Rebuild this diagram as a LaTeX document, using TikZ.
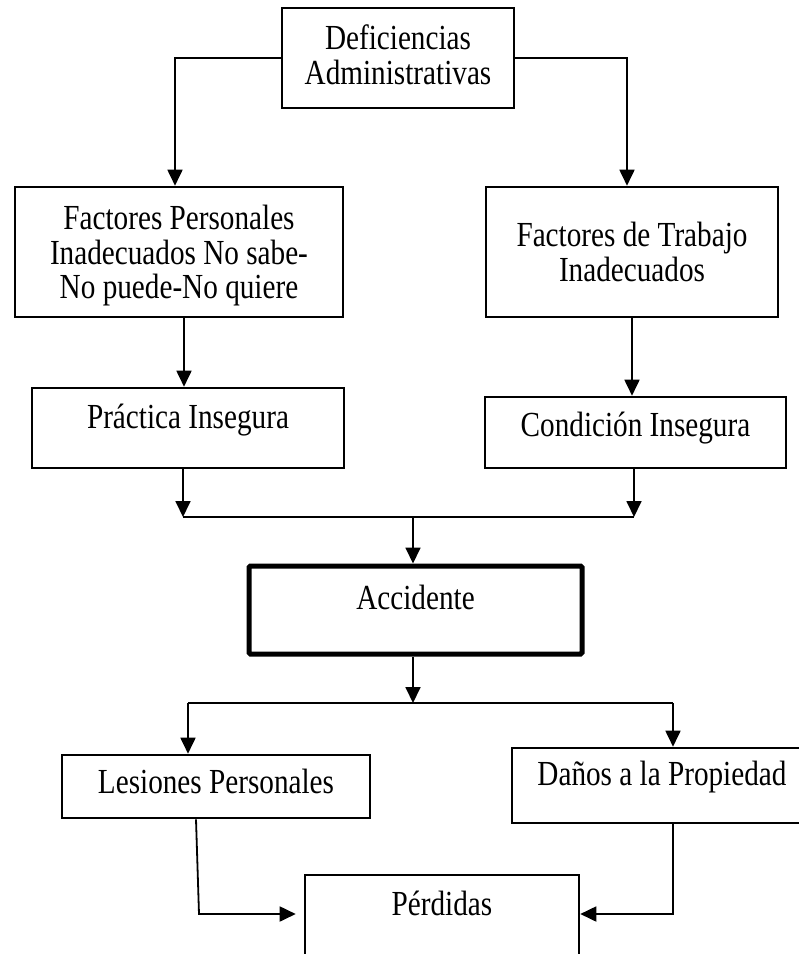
\documentclass[tikz,border=0pt]{standalone}
\usepackage{fontspec}
\setmainfont{Liberation Serif}[FakeStretch=0.83]
\usetikzlibrary{arrows.meta, positioning}

\begin{document}
\begin{tikzpicture}[x=1pt, y=-1pt, font=\fontsize{35.2}{34.5}\selectfont,
	box/.style={draw, line width=2.6pt, inner sep=0pt, align=center},
	tbox/.style={box, text height=20pt, text depth=#1},
	conn/.style={line width=1.8pt},
	arr/.style={conn, -{Triangle[length=16pt, width=15pt]}}]
	\useasboundingbox (0,0) rectangle (799,954);
	\clip (0,0) rectangle (799,954);
	% boxes
	\node[box, minimum width=232pt, minimum height=100pt] (def) at (398,58) {Deficiencias\\Administrativas\rule[-7pt]{0pt}{0pt}};
	\node[box, minimum width=328pt, minimum height=130pt] (fpers) at (179,252) {\rule{0pt}{32pt}Factores Personales\\Inadecuados No sabe-\\No puede-No quiere};
	\node[box, minimum width=292pt, minimum height=130pt] (ftrab) at (632,252) {Factores de Trabajo\\Inadecuados};
	\node[tbox=20pt, minimum width=312pt, minimum height=80pt] (prac) at (188,428) {Práctica Insegura};
	\node[tbox=13pt, minimum width=301pt, minimum height=71pt] (cond) at (635.5,432.5) {Condición Insegura};
	\node[tbox=22pt, line width=5pt, rounded corners=1.5pt, minimum width=333pt, minimum height=88pt] (acc) at (415.5,610) {Accidente};
	\node[tbox=7pt, minimum width=308pt, minimum height=63pt] (les) at (216,786.5) {Lesiones Personales};
	\node[tbox=21pt, minimum width=300pt, minimum height=75pt] (dan) at (662,785.5) {Daños a la Propiedad};
	\node[tbox=30pt, minimum width=274pt, minimum height=90pt] (per) at (442,920) {Pérdidas};
	% connectors
	\coordinate (dl) at (175,58);
	\coordinate (dr) at (627,58);
	\draw[arr] (def.west) -- (dl) -- (dl |- fpers.north);
	\draw[arr] (def.east) -- (dr) -- (dr |- ftrab.north);
	\coordinate (a1) at (184,0);
	\coordinate (a2) at (632,0);
	\draw[arr] (a1 |- fpers.south) -- (a1 |- prac.north);
	\draw[arr] (a2 |- ftrab.south) -- (a2 |- cond.north);
	\coordinate (jl) at (183,517);
	\coordinate (jr) at (634,517);
	\coordinate (jm) at (413,517);
	\draw[arr] (jl |- prac.south) -- (jl);
	\draw[arr] (jr |- cond.south) -- (jr);
	\draw[conn] (jl) -- (jr);
	\draw[arr] (jm) -- (jm |- acc.north);
	\coordinate (sm) at (413,703);
	\coordinate (sl) at (188,703);
	\coordinate (sr) at (673,703);
	\draw[arr] (sm |- acc.south) -- (sm);
	\draw[conn] (sl) -- (sr);
	\draw[arr] (sl) -- (sl |- les.north);
	\draw[arr] (sr) -- (sr |- dan.north);
	\coordinate (bl) at (199,914);
	\coordinate (br) at (673,914);
	\draw[arr] ([xshift=-20pt]les.south) -- (bl) -- ([xshift=-8pt]per.west |- bl);
	\draw[arr] (br |- dan.south) -- (br) -- (per.east |- br);
\end{tikzpicture}
\end{document}
